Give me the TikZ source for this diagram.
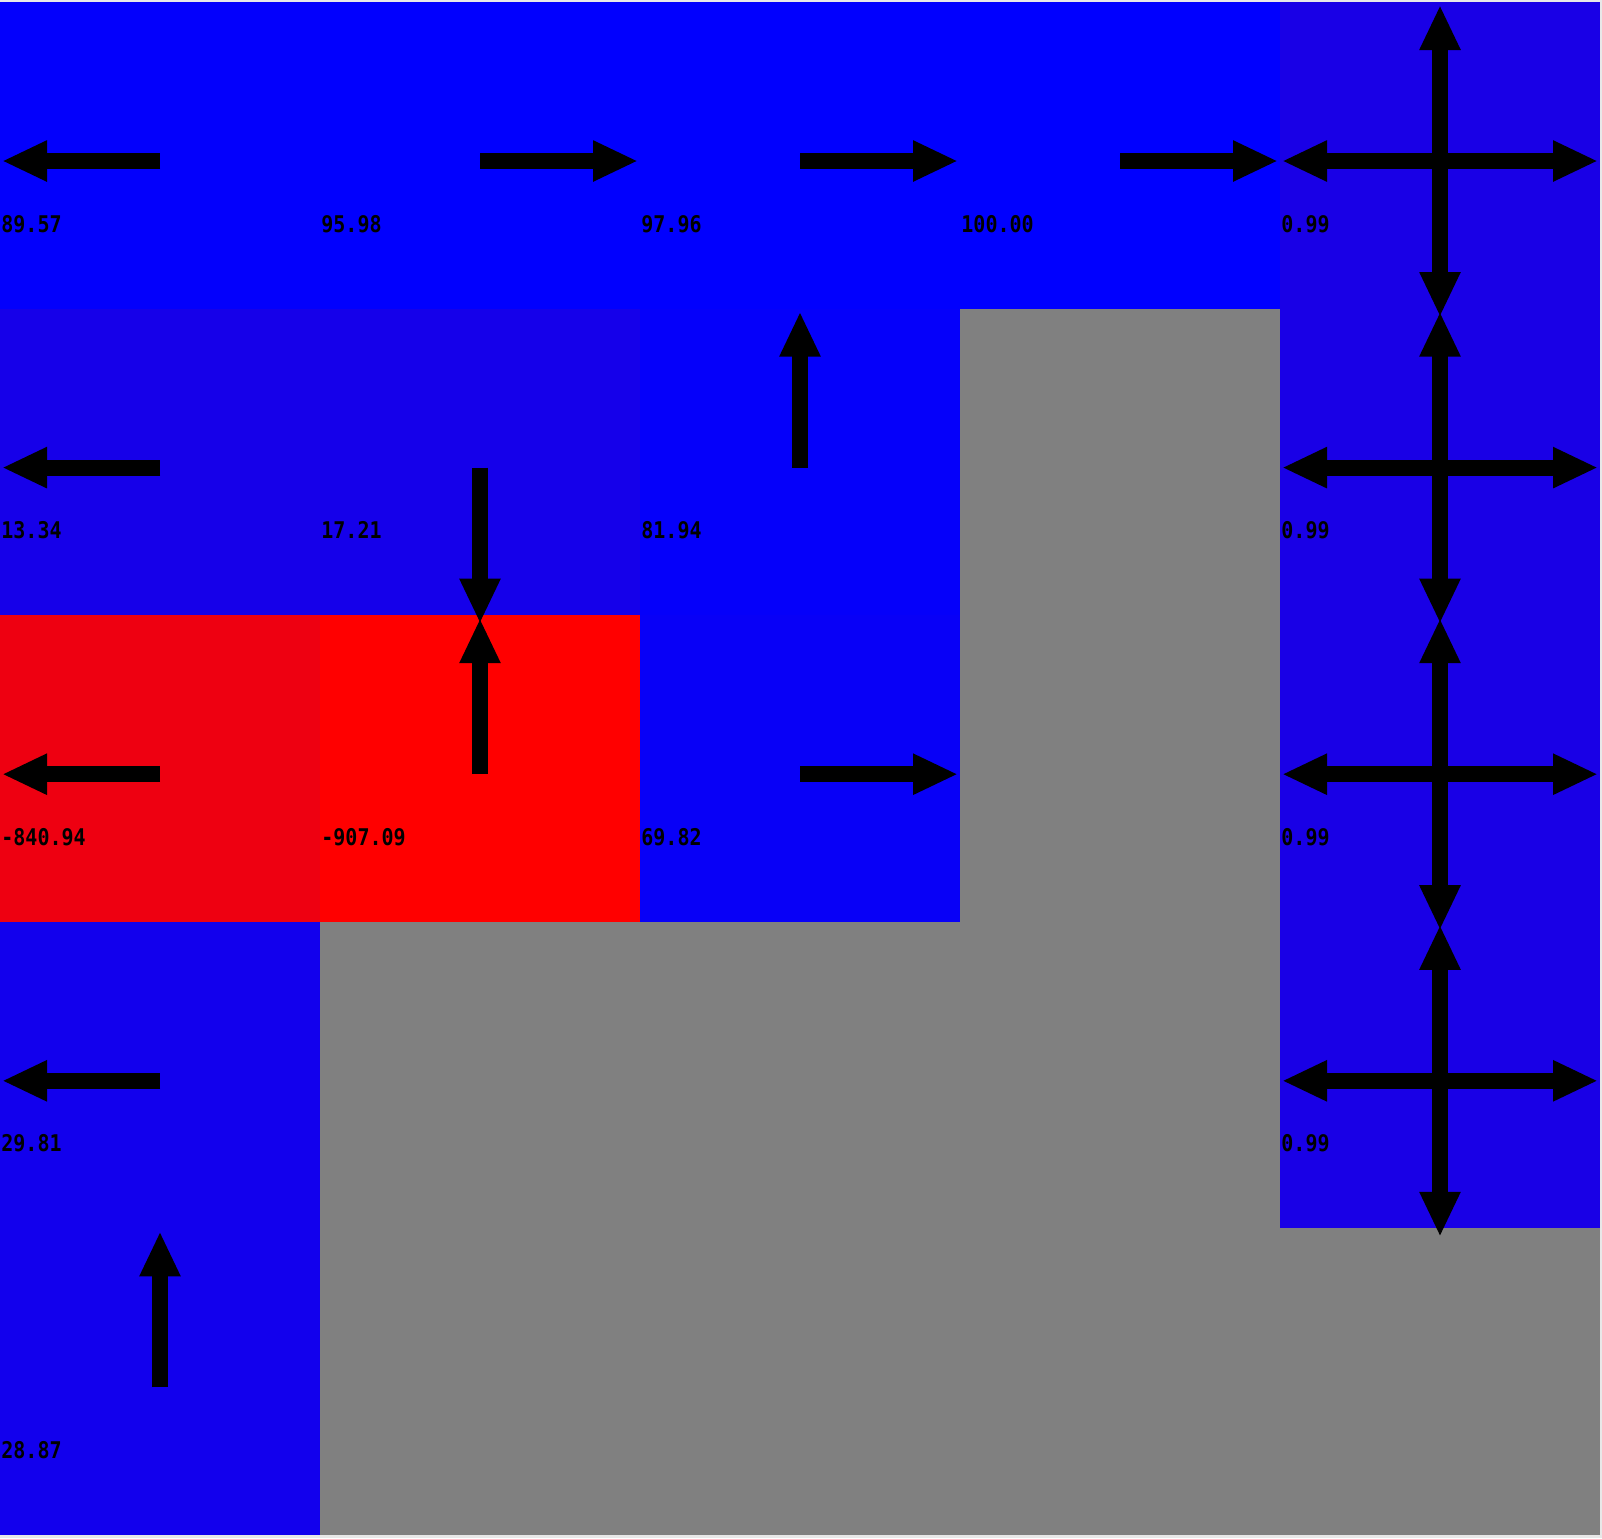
\documentclass[tikz,border=0pt]{standalone}
\usepackage{fontspec}
\newfontfamily\cellfont[FakeStretch=0.87]{DejaVu Sans Mono}
\usetikzlibrary{arrows.meta}
\definecolor{wall}{RGB}{128,128,128}
\definecolor{rim}{RGB}{232,232,232}
\begin{document}
\begin{tikzpicture}[x=0.5pt,y=-0.5pt,
    pol/.style={line width=8pt,-{Triangle[length=22.5pt,width=19pt]}},
    val/.style={anchor=base west,inner sep=0pt,font=\cellfont\bfseries\fontsize{11.5pt}{12pt}\selectfont}]
    % frame of the picture
    \useasboundingbox (0,0) rectangle (1602,1538);
    \fill[rim] (0,0) rectangle (1602,1538);
    % walls
    \foreach \c/\r in {3/1,3/2,1/3,2/3,3/3,1/4,2/4,3/4,4/4}
        \fill[wall] (320*\c,2+306.6*\r) rectangle ++(320,306.6);
    % states: colour from value, value label, arrow anchors
    \foreach \c/\r/\v in {0/0/89.57,1/0/95.98,2/0/97.96,3/0/100.00,4/0/0.99,
                          0/1/13.34,1/1/17.21,2/1/81.94,4/1/0.99,
                          0/2/-840.94,1/2/-907.09,2/2/69.82,4/2/0.99,
                          0/3/29.81,4/3/0.99,0/4/28.87}{
        \pgfmathsetmacro\p{(100-\v)/1007.09*100}
        \fill[red!\p!blue] (320*\c,2+306.6*\r) rectangle ++(320,306.6);
        \node[val] (v-\c-\r) at (320*\c+1,232+306.6*\r) {\v};
        \coordinate (m-\c-\r) at (320*\c+160,161+306.6*\r);
        \path (m-\c-\r) ++(-158,0) coordinate (w-\c-\r)
              (m-\c-\r) ++(158,0) coordinate (e-\c-\r)
              (m-\c-\r) ++(0,-156) coordinate (n-\c-\r)
              (m-\c-\r) ++(0,156) coordinate (s-\c-\r);
    }
    % policy
    \foreach \c/\r/\d in {0/0/w,1/0/e,2/0/e,3/0/e,
                          0/1/w,1/1/s,2/1/n,
                          0/2/w,1/2/n,2/2/e,
                          0/3/w,0/4/n}
        \draw[pol] (m-\c-\r) -- (\d-\c-\r);
    % last column goes every way
    \foreach \r in {0,...,3}
        \foreach \d in {n,s,w,e}
            \draw[pol] (m-4-\r) -- (\d-4-\r);
\end{tikzpicture}
\end{document}
